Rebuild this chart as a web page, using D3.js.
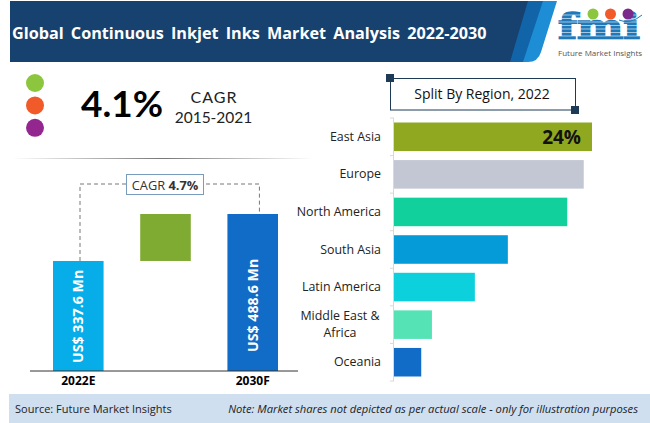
<!DOCTYPE html>
<html>
<head>
<meta charset="utf-8">
<script src="https://cdnjs.cloudflare.com/ajax/libs/d3/7.8.5/d3.min.js"></script>
<style>
  body { margin: 0; background: #fff; }
  text { font-family: "Open Sans", sans-serif; }
</style>
</head>
<body>
<script>
const titleText = "Global Continuous Inkjet Inks Market Analysis 2022-2030";

// left panel
const marketCats = ["2022E", "gap", "2030F"];
const marketVals = [337.6, 488.6];
const marketLabels = ["US$ 337.6 Mn", "US$ 488.6 Mn"];

// right panel
const regions = ["East Asia", "Europe", "North America", "South Asia", "Latin America", "Middle East & Africa", "Oceania"];
const regionShares = [24, 23, 21, 13.8, 9.8, 4.6, 3.3];
const regionColors = ["#8fa81f", "#c2c7d3", "#12d09b", "#059bd8", "#0cd0dc", "#55e3b6", "#106cc6"];

const width = 650, height = 423;

const svg = d3.select("body").append("svg")
    .attr("width", width)
    .attr("height", height)
    .style("display", "block");

// fading divider under the CAGR block
const fade = svg.append("defs").append("linearGradient")
    .attr("id", "fade")
    .attr("gradientUnits", "userSpaceOnUse")
    .attr("x1", 12).attr("x2", 314).attr("y1", 0).attr("y2", 0);
fade.append("stop").attr("offset", "0").attr("stop-color", "#fff");
fade.append("stop").attr("offset", "0.5").attr("stop-color", "#777");
fade.append("stop").attr("offset", "1").attr("stop-color", "#fff");

// header band
svg.append("path").attr("d", "M530,1 L557,1 L541,52 Q538,62 528,62 L510,62 Z").attr("fill", "#1d8ed6");
svg.append("path").attr("d", "M515,1 L543,1 L523,62 L497,62 Z").attr("fill", "#1264a8");
svg.append("path").attr("d", "M10,1 L528,1 L510,62 L10,62 Z").attr("fill", "#17426f");

svg.append("text")
    .attr("x", 12).attr("y", 39)
    .attr("fill", "#fff")
    .style("font-size", "16.2px").style("font-weight", 700)
    .style("word-spacing", "3px")
    .text(titleText);

// logo
const logo = svg.append("g");
logo.append("text")
    .attr("x", 558).attr("y", 39)
    .attr("textLength", 82).attr("lengthAdjust", "spacingAndGlyphs")
    .attr("fill", "#1f78b8").attr("stroke", "#1f78b8").attr("stroke-width", 1.6)
    .style("font-family", "'DejaVu Serif'").style("font-weight", 700).style("font-size", "36px")
    .text("fmi");
d3.range(15, 40, 3.5).forEach(function(y) {
  logo.append("line").attr("x1", 556).attr("x2", 642).attr("y1", y).attr("y2", y)
      .attr("stroke", "#fff").attr("stroke-width", 0.6);
});
logo.selectAll("circle").data(["#8cc63f", "#f15a29", "#7b2a8b"]).enter().append("circle")
    .attr("cx", function(d, i) { return 593 + i * 17.5; })
    .attr("cy", 14).attr("r", 5.5)
    .attr("fill", function(d) { return d; });
logo.append("path")
    .attr("d", "M619,20 Q630,25 642,15")
    .attr("fill", "none").attr("stroke", "#1f78b8").attr("stroke-width", 1);
logo.append("text")
    .attr("x", 558).attr("y", 56)
    .attr("fill", "#555")
    .style("font-size", "8px")
    .text("Future Market Insights");

// CAGR block
svg.selectAll(".dot").data(["#8cc63f", "#f15a29", "#93278f"]).enter().append("circle")
    .attr("class", "dot")
    .attr("cx", 35)
    .attr("cy", function(d, i) { return 83 + i * 22.4; })
    .attr("r", 9)
    .attr("fill", function(d) { return d; });

svg.append("text").attr("x", 81).attr("y", 117)
    .attr("fill", "#000")
    .style("font-family", "Lato").style("font-size", "37px").style("font-weight", 700)
    .text("4.1%");
svg.append("text").attr("x", 214).attr("y", 103).attr("text-anchor", "middle")
    .attr("fill", "#222").style("font-family", "Lato").style("font-size", "16px").style("font-weight", 400)
    .style("letter-spacing", "1px")
    .text("CAGR");
svg.append("text").attr("x", 213.5).attr("y", 122.5).attr("text-anchor", "middle")
    .attr("fill", "#222").style("font-family", "Lato").style("font-size", "15.5px").style("font-weight", 400)
    .text("2015-2021");

svg.append("rect")
    .attr("x", 12).attr("y", 158).attr("width", 302).attr("height", 1)
    .attr("fill", "url(#fade)");

// left bars
const x = d3.scaleBand()
    .domain(marketCats)
    .range([53, 278])
    .paddingInner(0.42)
    .paddingOuter(0);
const y = d3.scaleLinear()
    .domain([-16, 488.6])
    .range([371, 214]);

// dashed bracket between the two bars
const bx0 = x("2022E") + 27, bx1 = x("2030F") + 32, by = 184;
svg.append("path")
    .attr("d", "M" + bx0 + "," + y(marketVals[0]) + " V" + by + " H" + bx1 + " V" + y(marketVals[1]))
    .attr("fill", "none").attr("stroke", "#777").attr("stroke-dasharray", "4,3");
svg.append("rect")
    .attr("x", 126.5).attr("y", 174.5).attr("width", 77).attr("height", 20)
    .attr("fill", "#fff").attr("stroke", "#7a9cbc");
const cagrLabel = svg.append("text").attr("x", 165).attr("y", 189.5).attr("text-anchor", "middle")
    .attr("fill", "#333").style("font-size", "12.8px");
cagrLabel.append("tspan").text("CAGR ");
cagrLabel.append("tspan").style("font-weight", 700).text("4.7%");

svg.selectAll(".mbar").data(marketVals).enter().append("rect")
    .attr("class", "mbar")
    .attr("x", function(d, i) { return x(i ? "2030F" : "2022E"); })
    .attr("y", function(d) { return y(d); })
    .attr("width", x.bandwidth())
    .attr("height", function(d) { return y(-16) - y(d); })
    .attr("fill", function(d, i) { return i ? "#106cc6" : "#06ade9"; });

// floating difference block
svg.append("rect")
    .attr("x", x("gap"))
    .attr("y", y(marketVals[1]))
    .attr("width", x.bandwidth())
    .attr("height", y(marketVals[0]) - y(marketVals[1]))
    .attr("fill", "#80ab32");

svg.selectAll(".mlabel").data(marketLabels).enter().append("text")
    .attr("class", "mlabel")
    .attr("transform", function(d, i) {
      const cx = x(i ? "2030F" : "2022E") + x.bandwidth() / 2;
      return "translate(" + (cx + 5) + "," + (i ? 352 : 363) + ") rotate(-90)";
    })
    .attr("fill", "#fff")
    .style("font-size", "14.2px").style("font-weight", 700)
    .text(function(d) { return d; });

const xAxis = svg.append("g")
    .attr("transform", "translate(0,371)")
    .call(d3.axisBottom(x).tickSize(0).tickPadding(5)
      .tickFormat(function(d) { return d === "gap" ? "" : d; }));
xAxis.select(".domain").attr("d", "M30,0 H298").attr("stroke", "#333");
xAxis.selectAll("text")
    .attr("fill", "#000")
    .style("font-family", "'Open Sans'").style("font-size", "12px").style("font-weight", 700);

// right panel title box
svg.append("rect")
    .attr("x", 390.5).attr("y", 78.5).attr("width", 185).attr("height", 31.5)
    .attr("fill", "#fff").attr("stroke", "#1d3b57");
svg.append("rect").attr("x", 386).attr("y", 74).attr("width", 8).attr("height", 8).attr("fill", "#1d3b57");
svg.append("rect").attr("x", 571).attr("y", 106).attr("width", 8).attr("height", 8).attr("fill", "#1d3b57");
svg.append("text").attr("x", 482).attr("y", 99).attr("text-anchor", "middle")
    .attr("fill", "#111").style("font-size", "14px")
    .text("Split By Region, 2022");

// right bars
const ry = d3.scaleBand()
    .domain(regions)
    .range([118, 381])
    .paddingInner(0.24)
    .paddingOuter(0.12);
const rx = d3.scaleLinear()
    .domain([0, 24])
    .range([394, 592]);

svg.selectAll(".rbar").data(regionShares).enter().append("rect")
    .attr("class", "rbar")
    .attr("x", rx(0))
    .attr("y", function(d, i) { return ry(regions[i]); })
    .attr("width", function(d) { return rx(d) - rx(0); })
    .attr("height", ry.bandwidth())
    .attr("fill", function(d, i) { return regionColors[i]; });

svg.append("text")
    .attr("x", rx(24) - 11).attr("y", 144).attr("text-anchor", "end")
    .attr("fill", "#111")
    .style("font-size", "19px").style("font-weight", 700)
    .text("24%");

// category axis with ticks between bands
svg.append("line").attr("x1", 393.5).attr("x2", 393.5).attr("y1", 118).attr("y2", 381).attr("stroke", "#d9d9d9");
d3.range(regions.length + 1).forEach(function(i) {
  const ty = 118 + i * ry.step();
  svg.append("line").attr("x1", 390).attr("x2", 394).attr("y1", ty).attr("y2", ty).attr("stroke", "#d9d9d9");
});

svg.selectAll(".rlabel").data(regions).enter().append("text")
    .attr("class", "rlabel")
    .attr("fill", "#222")
    .style("font-size", "12.4px")
    .each(function(d) {
      const t = d3.select(this), cy = ry(d) + ry.bandwidth() / 2;
      if (d === "Middle East & Africa") {
        t.attr("text-anchor", "middle");
        t.append("tspan").attr("x", 340).attr("y", cy - 5).text("Middle East &");
        t.append("tspan").attr("x", 340).attr("y", cy + 12).text("Africa");
      } else {
        t.attr("text-anchor", "end").attr("x", 381).attr("y", cy + 4).text(d);
      }
    });

// footer
svg.append("rect").attr("x", 9).attr("y", 394).attr("width", 641).attr("height", 29).attr("fill", "#cfdff0");
svg.append("text").attr("x", 15).attr("y", 413)
    .attr("fill", "#222").style("font-size", "11px")
    .text("Source: Future Market Insights");
svg.append("text").attr("x", 638).attr("y", 413).attr("text-anchor", "end")
    .attr("fill", "#222").style("font-size", "11.2px").style("font-style", "italic")
    .text("Note: Market shares not depicted as per actual scale - only for illustration purposes");
</script>
</body>
</html>
